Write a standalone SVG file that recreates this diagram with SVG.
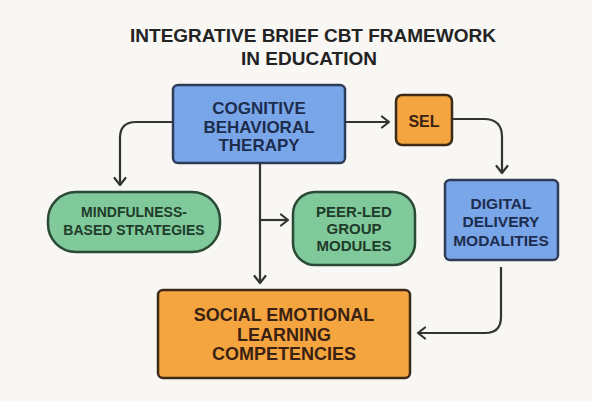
<svg xmlns="http://www.w3.org/2000/svg" width="592" height="401" viewBox="0 0 592 401">
  <style>
    text { font-family: "Liberation Sans", Arial, sans-serif; font-weight: bold; text-anchor: middle; }
    .title { font-size: 19px; fill: #232323; }
    .blue { fill: #79a6e9; stroke: #2e3c57; stroke-width: 2.5; }
    .orange { fill: #f5a53f; stroke: #3d2a18; stroke-width: 2.5; }
    .green { fill: #80c99a; stroke: #2b4a36; stroke-width: 2.5; }
    .tblue { fill: #1d2d4e; }
    .torange { fill: #3a2213; }
    .tgreen { fill: #1f3b2a; }
    .conn { fill: none; stroke: #333333; stroke-width: 2.2; marker-end: url(#arr); }
  </style>
  <defs>
    <marker id="arr" markerUnits="userSpaceOnUse" markerWidth="14" markerHeight="14" viewBox="0 0 14 14" refX="11" refY="7" orient="auto">
      <path d="M4,1.5 L11,7 L4,12.5" fill="none" stroke="#333333" stroke-width="2.2" stroke-linecap="round" stroke-linejoin="round"/>
    </marker>
  </defs>
  <rect width="592" height="401" fill="#f8f7f3"/>
  <g id="title">
    <text class="title" x="313" y="42">INTEGRATIVE BRIEF CBT FRAMEWORK</text>
    <text class="title" x="309" y="65">IN EDUCATION</text>
  </g>
  <g id="connectors">
    <path class="conn" d="M345,122 L389,122"/>
    <path class="conn" d="M452,119 L484,119 Q502,119 502,137 L502,173"/>
    <path class="conn" d="M173,122 L136,122 Q120,122 120,138 L120,185"/>
    <path class="conn" d="M260,163 L260,283"/>
    <path class="conn" d="M260,220 L288,220"/>
    <path class="conn" d="M501,267 L501,317 Q501,333 485,333 L418,333"/>
  </g>
  <g id="cbt">
    <rect class="blue" x="173" y="85" width="172" height="78" rx="5"/>
    <text class="tblue" x="259" y="114" font-size="17">COGNITIVE</text>
    <text class="tblue" x="259" y="133" font-size="17">BEHAVIORAL</text>
    <text class="tblue" x="259" y="151" font-size="17">THERAPY</text>
  </g>
  <g id="sel">
    <rect class="orange" x="396" y="95" width="56" height="50" rx="6"/>
    <text class="torange" x="424" y="127" font-size="16">SEL</text>
  </g>
  <g id="mindfulness">
    <rect class="green" x="48" y="192" width="172" height="60" rx="28"/>
    <text class="tgreen" x="134" y="217" font-size="14">MINDFULNESS-</text>
    <text class="tgreen" x="134" y="235" font-size="14">BASED STRATEGIES</text>
  </g>
  <g id="peer">
    <rect class="green" x="293" y="192" width="122" height="73" rx="22"/>
    <text class="tgreen" x="354" y="217" font-size="15">PEER-LED</text>
    <text class="tgreen" x="354" y="234" font-size="15">GROUP</text>
    <text class="tgreen" x="354" y="251" font-size="15">MODULES</text>
  </g>
  <g id="digital">
    <rect class="blue" x="445" y="180" width="113" height="80" rx="5"/>
    <text class="tblue" x="501" y="208.5" font-size="15.5">DIGITAL</text>
    <text class="tblue" x="501" y="227" font-size="15.5">DELIVERY</text>
    <text class="tblue" x="501" y="245.5" font-size="15.5">MODALITIES</text>
  </g>
  <g id="competencies">
    <rect class="orange" x="158" y="290" width="252" height="88" rx="5"/>
    <text class="torange" x="284" y="321" font-size="18">SOCIAL EMOTIONAL</text>
    <text class="torange" x="284" y="341" font-size="18">LEARNING</text>
    <text class="torange" x="284" y="360" font-size="18">COMPETENCIES</text>
  </g>
</svg>
